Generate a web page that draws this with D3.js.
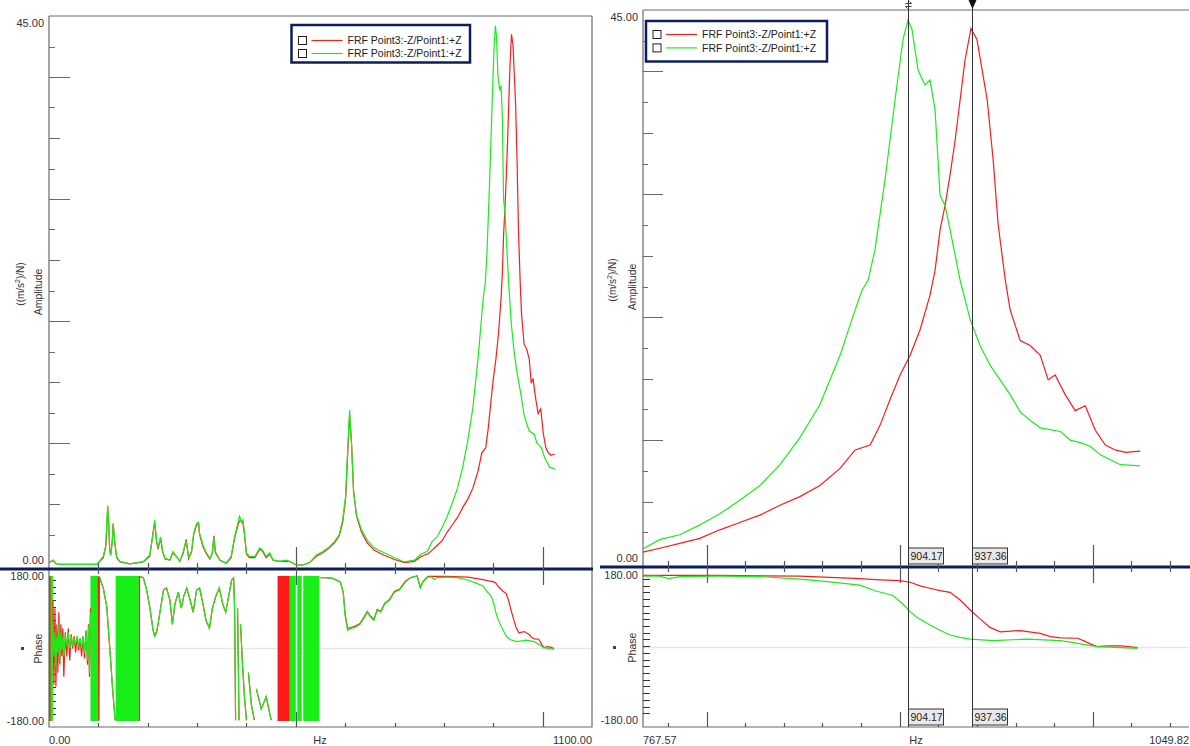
<!DOCTYPE html>
<html lang="en">
<head>
<meta charset="UTF-8">
<title>FRF Amplitude / Phase</title>
<script src="https://cdn.jsdelivr.net/npm/d3@7"></script>
<style>
  html, body { margin: 0; padding: 0; background: #fff; }
  svg { display: block; font-family: "Liberation Sans", Arial, sans-serif; }
</style>
</head>
<body>
<script>
// ---------- data (Hz, value); null value = gap in the trace ----------
const seriesNames = ["FRF Point3:-Z/Point1:+Z", "FRF Point3:-Z/Point1:+Z"];
const cursorHz = [904.17, 937.36];

// amplitude ((m/s^2)/N), below the zoom range
const ampGreenLow = [[0,0.2],[2,0.27],[9,0.4],[14,0.1],[22,0.05],[97,0.05],[110,0.7],[115,1.6],[119,4.9],[121,3.4],[123,1.2],[125,0.8],[128,1.8],[130,3.3],[133,2.0],[137,0.7],[144,0.27],[164,0.1],[191,0.27],[204,0.8],[211,2.6],[214,3.7],[218,2.0],[221,1.4],[226,2.3],[230,1.2],[235,0.55],[245,0.4],[251,1.1],[258,0.7],[265,0.3],[272,1.1],[278,2.0],[283,0.55],[289,1.2],[293,2.6],[299,3.4],[303,3.5],[305,2.6],[312,1.6],[319,1.0],[326,0.55],[331,1.0],[334,2.3],[337,1.1],[346,0.4],[359,0.15],[369,0.7],[376,2.3],[383,3.5],[386,4.0],[390,3.5],[393,3.7],[396,2.6],[400,1.0],[406,0.7],[417,0.7],[427,1.4],[433,1.2],[440,0.7],[447,1.0],[454,0.4],[467,0.3],[481,0.4],[487,0.3],[501,0.0],[514,0.0],[528,0.2],[541,0.8],[555,1.1],[568,1.5],[578,1.9],[588,2.5],[595,3.7],[601,5.7],[605,9.4],[609,12.7],[613,9.8],[617,6.1],[623,4.1],[633,2.9],[645,2.0],[659,1.4],[679,1.0],[700,0.6],[720,0.25],[740,0.4],[754,0.9],[766,1.1]];
const ampRedLow = [[0,0.2],[2,0.25],[9,0.35],[14,0.1],[22,0.05],[97,0.05],[110,0.6],[115,1.5],[119,4.7],[121,3.3],[123,1.2],[125,0.8],[128,1.9],[130,3.4],[133,1.9],[137,0.6],[144,0.25],[164,0.1],[191,0.25],[204,0.7],[211,2.7],[214,3.5],[218,1.9],[221,1.3],[226,2.2],[230,1.1],[235,0.5],[245,0.4],[251,1.0],[258,0.7],[265,0.3],[272,1.0],[278,2.1],[283,0.5],[289,1.1],[293,2.5],[299,3.3],[303,3.4],[305,2.5],[312,1.5],[319,0.9],[326,0.5],[331,1.0],[334,2.4],[337,1.0],[346,0.4],[359,0.15],[369,0.6],[376,2.2],[383,3.3],[386,3.6],[390,3.6],[393,3.4],[396,2.5],[400,0.9],[406,0.6],[417,0.6],[427,1.3],[433,1.1],[440,0.6],[447,0.9],[454,0.4],[467,0.3],[481,0.3],[487,0.3],[501,0.0],[514,0.0],[528,0.2],[541,0.7],[555,1.0],[568,1.4],[578,1.8],[588,2.4],[595,3.5],[601,5.5],[605,9.0],[609,12.3],[613,9.9],[617,6.0],[623,4.0],[633,2.7],[645,1.8],[659,1.2],[679,0.8],[700,0.45],[720,0.2],[740,0.3],[754,0.7],[766,0.9]];

// amplitude around the resonance
const ampGreenHigh = [[767.6,1.2],[775.7,1.9],[786.1,2.3],[796.5,3.1],[806.8,4.0],[817.2,5.1],[827.6,6.3],[838.0,8.0],[848.3,10.2],[858.7,12.9],[869.1,16.9],[876.9,20.6],[880.5,22.2],[883.6,23.0],[887.2,25.5],[892.4,31.2],[897.6,37.7],[901.7,42.6],[904.3,44.2],[906.4,43.4],[909.5,40.1],[913.1,38.9],[915.7,39.3],[918.3,36.9],[920.9,29.9],[923.5,29.1],[926.1,27.1],[931.3,23.0],[936.5,19.8],[941.6,17.7],[946.8,16.1],[952.0,14.9],[957.2,13.7],[962.4,12.3],[967.6,11.6],[972.8,11.0],[983.2,10.7],[988.3,10.0],[993.5,9.8],[998.7,9.5],[1003.9,8.8],[1009.1,8.4],[1014.3,8.0],[1024.6,7.9]];
const ampRedHigh = [[767.6,0.9],[775.7,1.2],[786.1,1.6],[796.5,2.0],[806.8,2.7],[817.2,3.3],[827.6,3.9],[838.0,4.7],[848.3,5.4],[858.7,6.3],[869.1,7.7],[876.9,9.2],[884.7,9.6],[889.8,11.2],[895.0,13.3],[900.2,15.3],[905.4,16.9],[910.6,19.0],[915.7,21.8],[918.3,23.8],[920.9,27.1],[923.5,29.1],[926.1,31.6],[928.7,34.4],[931.3,37.7],[933.8,40.9],[936.9,43.5],[940.0,42.6],[942.7,40.1],[945.3,37.7],[948.4,32.8],[951.0,27.5],[954.7,23.0],[957.2,20.6],[962.4,18.1],[967.6,17.7],[972.8,16.9],[976.9,14.9],[980.5,15.3],[985.7,13.7],[990.9,12.4],[996.1,12.8],[1001.3,10.8],[1006.5,9.6],[1011.6,9.2],[1016.8,9.0],[1024.6,9.1]];

// phase (deg), below the zoom range
const phaseGreenLow = [[8,60],[10,-20],[12,40],[14,-50],[16,30],[18,-10],[20,60],[22,-30],[24,40],[26,-5],[28,30],[30,-20],[33,35],[36,5],[39,40],[42,0],[45,30],[48,5],[51,25],[54,10],[57,30],[60,5],[63,25],[66,0],[69,30],[72,-10],[75,40],[78,-30],[80,55],[82,-60],[84,90],[86,null],
  [102,178],[110,150],[117,104],[123,4],[129,-103],[134,-178],[136,null],
  [184,178],[191,176],[197,150],[204,104],[211,45],[214,30],[218,40],[221,60],[226,100],[232,145],[238,150],[245,120],[250,60],[255,110],[262,140],[268,100],[273,130],[279,150],[286,120],[292,90],[299,145],[305,150],[312,110],[318,70],[325,50],[331,100],[338,130],[345,150],[352,110],[358,90],[364,130],[370,170],[374,175],[376,100],[378,-178],[379,null],
  [382,100],[385,-178],[386,null],[388,60],[392,-40],[396,-120],[400,-178],[401,null],[404,-60],[410,-140],[416,-178],[417,null],
  [420,-100],[430,-150],[440,-120],[450,-178],[451,null],
  [550,176],[560,176],[575,174],[590,165],[596,140],[600,80],[605,45],[612,50],[620,52],[630,60],[638,75],[645,90],[650,80],[658,70],[665,95],[672,90],[680,110],[690,120],[700,140],[710,145],[722,165],[733,176],[746,180],[752,150],[758,165],[766,176]];
const phaseRedLow = [[8,120],[10,-90],[12,100],[14,-95],[16,60],[18,-60],[20,90],[22,-40],[24,60],[26,-20],[28,50],[30,-70],[33,40],[36,-20],[39,50],[42,-30],[45,35],[48,0],[51,30],[54,-10],[57,30],[60,-5],[63,25],[66,-20],[69,30],[72,-25],[75,45],[78,-40],[80,60],[82,-70],[84,100],[86,null],
  [100,178],[101,-178],[102,178],[110,150],[117,104],[123,4],[129,-103],[134,-178],[136,null],
  [184,178],[191,176],[197,150],[204,104],[211,45],[214,32],[218,42],[221,62],[226,100],[232,145],[238,150],[245,120],[250,60],[255,110],[262,140],[268,100],[273,130],[279,150],[286,120],[292,90],[299,145],[305,150],[312,110],[318,70],[325,50],[331,100],[338,130],[345,150],[352,110],[358,90],[364,130],[370,170],[374,175],[376,100],[378,-178],[379,null],
  [382,100],[385,-178],[386,null],[388,60],[392,-40],[396,-120],[400,-178],[401,null],[404,-60],[410,-140],[416,-178],[417,null],
  [420,-100],[430,-150],[440,-120],[450,-178],[451,null],
  [550,176],[560,176],[575,174],[590,165],[596,140],[600,85],[605,50],[612,52],[620,55],[630,62],[638,78],[645,92],[650,82],[658,72],[665,97],[672,92],[680,112],[690,122],[700,142],[710,147],[722,167],[733,176],[746,180],[752,152],[758,167],[766,177]];
// full-height wrap bands (Hz from, Hz to)
const greenWrapBands = [[0,8],[84,102],[135,182],[478,500],[503,512],[515,548]];
const redWrapBands = [[0,3],[182,184],[463,487]];

// phase around the resonance
const phaseGreenHigh = [[767.4,177],[775.7,177],[780.4,171],[786.1,176],[806.8,177],[827.6,176],[848.3,170],[863.9,163],[879.4,155],[887.2,141],[896.5,129],[901.7,108],[905.4,89],[908.8,75],[915.7,56],[920.9,43],[926.1,31],[931.3,25],[936.5,21],[948.5,17],[966.1,21],[983.2,17],[990.0,12],[997.3,6],[1002.5,2],[1023.2,-2]];
const phaseRedHigh = [[767.4,179],[806.8,179],[848.3,177],[879.4,171],[889.8,168],[900.2,166],[905.4,162],[910.6,153],[915.7,147],[920.9,141],[926.1,137],[931.3,118],[936.5,93],[941.6,71],[946.8,50],[952.0,39],[962.4,42],[972.8,35],[978.0,27],[983.2,24],[992.0,23],[995.1,17],[998.7,9],[1002.5,2],[1007.7,4],[1014.5,4],[1023.2,0]];

const ampGreen = ampGreenLow.concat(ampGreenHigh);
const ampRed = ampRedLow.concat(ampRedHigh);
const phaseGreen = phaseGreenLow.concat(phaseGreenHigh);
const phaseRed = phaseRedLow.concat(phaseRedHigh);

const RED = "#ff1a1a", GREEN = "#18ef18", NAVY = "#0c1f5c", AXIS = "#6a6a6a";

const svg = d3.select("body").append("svg")
  .attr("width", 1190).attr("height", 746);
const defs = svg.append("defs");

function panel(cfg) {
  const g = svg.append("g");
  const x = d3.scaleLinear().domain(cfg.domain).range([cfg.x0, cfg.x1]);
  const yA = d3.scaleLinear().domain([0, 45]).range([cfg.ampZero, cfg.ampTop]);
  const yP = d3.scaleLinear().domain([-180, 180]).range([cfg.phBot, cfg.phTop]);

  // clip regions
  defs.append("clipPath").attr("id", cfg.id + "A").append("rect")
    .attr("x", cfg.axisX).attr("y", cfg.frameTop).attr("width", cfg.x1 - cfg.axisX).attr("height", cfg.sep - 1 - cfg.frameTop);
  defs.append("clipPath").attr("id", cfg.id + "P").append("rect")
    .attr("x", cfg.axisX).attr("y", cfg.sep + 1).attr("width", cfg.x1 - cfg.axisX).attr("height", cfg.bottom - cfg.sep - 1);

  // phase zero line
  g.append("line").attr("x1", cfg.axisX).attr("x2", cfg.x1).attr("y1", yP(0)).attr("y2", yP(0))
    .attr("stroke", "#e6e6e6").attr("stroke-width", 1.5);

  // frame
  g.append("path").attr("fill", "none").attr("stroke", AXIS).attr("stroke-width", 1.2)
    .attr("d", `M${cfg.axisX},${cfg.frameTop}V${cfg.bottom}H${cfg.x1}` +
      (cfg.rightFrame ? `V${cfg.frameTop}` : "") + `M${cfg.axisX},${cfg.frameTop}H${cfg.x1}`);

  // amplitude ticks
  const aTicks = d3.range(2.5, 45, 2.5);
  const aLen = v => v % 10 === 0 ? cfg.tl[2] : v % 5 === 0 ? cfg.tl[1] : cfg.tl[0];
  g.append("g").selectAll("line").data(aTicks).join("line")
    .attr("x1", cfg.axisX).attr("x2", v => cfg.axisX + aLen(v))
    .attr("y1", v => Math.round(yA(v)) + 0.5).attr("y2", v => Math.round(yA(v)) + 0.5)
    .attr("stroke", AXIS).attr("stroke-width", 1);

  // phase ticks
  const pTicks = d3.range(-180 + 100 / 6, 180, 100 / 6).filter(v => v < 178);
  g.append("g").selectAll("line").data(pTicks).join("line")
    .attr("x1", cfg.axisX).attr("x2", v => cfg.axisX + (Math.abs(Math.round(v)) % 100 === 0 ? 16 : 7))
    .attr("y1", v => Math.round(yP(v)) + 0.5).attr("y2", v => Math.round(yP(v)) + 0.5)
    .attr("stroke", "#333").attr("stroke-width", 1);

  // separator bar
  g.append("line").attr("x1", cfg.sepX0).attr("x2", cfg.sepX1).attr("y1", cfg.sep).attr("y2", cfg.sep)
    .attr("stroke", NAVY).attr("stroke-width", 3);

  // frequency ticks (around separator and on bottom axis)
  const isMajor = v => Math.abs(v % cfg.majorStep) < 1e-6;
  const ft = g.append("g").selectAll("g").data(cfg.fTicks).join("g");
  ft.append("line").attr("x1", v => Math.round(x(v)) + 0.5).attr("x2", v => Math.round(x(v)) + 0.5)
    .attr("y1", v => isMajor(v) ? cfg.sep - 22 : cfg.sep - 6).attr("y2", v => isMajor(v) ? cfg.sep + 16 : cfg.sep + 5)
    .attr("stroke", "#555").attr("stroke-width", 1.2);
  ft.append("line").attr("x1", v => Math.round(x(v)) + 0.5).attr("x2", v => Math.round(x(v)) + 0.5)
    .attr("y1", v => isMajor(v) ? cfg.bottom - 15 : cfg.bottom - 4).attr("y2", cfg.bottom)
    .attr("stroke", "#555").attr("stroke-width", 1.2);

  // curves
  const lineA = d3.line().x(d => x(d[0])).y(d => yA(d[1]));
  const lineP = d3.line().defined(d => d[1] !== null).x(d => x(d[0])).y(d => yP(d[1]));
  const ga = g.append("g").attr("clip-path", `url(#${cfg.id}A)`);
  const gp = g.append("g").attr("clip-path", `url(#${cfg.id}P)`);

  gp.selectAll("rect.gb").data(cfg.greenBands).join("rect").attr("class", "gb")
    .attr("x", d => x(d[0])).attr("width", d => Math.max(1, x(d[1]) - x(d[0])))
    .attr("y", yP(180)).attr("height", yP(-180) - yP(180)).attr("fill", GREEN);
  gp.selectAll("rect.rb").data(cfg.redBands).join("rect").attr("class", "rb")
    .attr("x", d => x(d[0])).attr("width", d => Math.max(1.2, x(d[1]) - x(d[0])))
    .attr("y", yP(180)).attr("height", yP(-180) - yP(180)).attr("fill", RED);

  ga.append("path").datum(ampRed).attr("d", lineA).attr("fill", "none").attr("stroke", RED).attr("stroke-width", 1.2);
  ga.append("path").datum(ampGreen).attr("d", lineA).attr("fill", "none").attr("stroke", GREEN).attr("stroke-width", 1.2);
  gp.append("path").datum(phaseRed).attr("d", lineP).attr("fill", "none").attr("stroke", RED).attr("stroke-width", 1.2);
  gp.append("path").datum(phaseGreen).attr("d", lineP).attr("fill", "none").attr("stroke", GREEN).attr("stroke-width", 1.2);

  // value labels
  const lab = (t, xx, yy, anchor) => g.append("text").attr("x", xx).attr("y", yy).attr("dy", "0.35em")
    .attr("text-anchor", anchor).attr("font-size", 11).attr("fill", "#333").text(t);
  lab("45.00", cfg.axisX - 5, cfg.frameTop + 7, "end");
  lab("0.00", cfg.axisX - 5, cfg.ampZero - 5, "end");
  lab("180.00", cfg.axisX - 5, yP(180), "end");
  lab("-180.00", cfg.axisX - 5, yP(-180), "end");
  lab(d3.format(".2f")(cfg.domain[0]), cfg.axisX, 740, "start");
  lab(d3.format(".2f")(cfg.domain[1]), cfg.x1, 740, "end");
  lab("Hz", cfg.hzX, 740, "middle");

  // axis titles
  const t1 = g.append("text").attr("transform", `translate(${cfg.titleX[0]},${cfg.ampTitleY[0]}) rotate(-90)`)
    .attr("text-anchor", "middle").attr("font-size", 10).attr("fill", "#333");
  t1.append("tspan").text("((m/s");
  t1.append("tspan").attr("font-size", 7).attr("dy", -4).text("2");
  t1.append("tspan").attr("dy", 4).text(")/N)");
  g.append("text").attr("transform", `translate(${cfg.titleX[1]},${cfg.ampTitleY[1]}) rotate(-90)`)
    .attr("dy", "0.35em").attr("text-anchor", "middle").attr("font-size", 10.5).attr("fill", "#333").text("Amplitude");
  g.append("text").attr("transform", `translate(${cfg.titleX[1]},${yP(0)}) rotate(-90)`)
    .attr("dy", "0.35em").attr("text-anchor", "middle").attr("font-size", 10.5).attr("fill", "#333").text("Phase");
  g.append("rect").attr("x", cfg.titleX[0] - 3).attr("y", yP(0) - 1.5).attr("width", 3).attr("height", 3).attr("fill", "#444");

  // legend
  const L = cfg.legend;
  const lg = g.append("g");
  lg.append("rect").attr("x", L.x).attr("y", L.y).attr("width", L.w).attr("height", L.h)
    .attr("fill", "#fff").attr("stroke", NAVY).attr("stroke-width", 2.5);
  const rows = lg.selectAll("g").data(seriesNames.map((n, i) => ({ n, c: i ? GREEN : RED, i }))).join("g")
    .attr("transform", d => `translate(${L.x},${L.y + L.r0 + d.i * L.dr})`);
  rows.append("rect").attr("x", 7).attr("y", -4).attr("width", 8).attr("height", 8)
    .attr("fill", "#fff").attr("stroke", "#222").attr("stroke-width", 1);
  rows.append("line").attr("x1", 20).attr("x2", 51).attr("stroke", d => d.c).attr("stroke-width", 1.2);
  rows.append("text").attr("x", 56).attr("dy", "0.35em").attr("font-size", 10.5).attr("fill", "#222").text(d => d.n);

  return { g, x, yA, yP };
}

const left = panel({
  id: "L", domain: [0, 1100], x0: 49, x1: 592, axisX: 49, frameTop: 16, ampTop: 16, ampZero: 565,
  phTop: 576, phBot: 721, sep: 569, bottom: 727, sepX0: 0, sepX1: 593, rightFrame: true,
  tl: [6, 11, 21], fTicks: d3.range(100, 1100, 100), majorStep: 500, hzX: 320,
  greenBands: greenWrapBands, redBands: redWrapBands,
  titleX: [24, 38], ampTitleY: [284, 292],
  legend: { x: 291.5, y: 25, w: 178.5, h: 37.5, r0: 15.5, dr: 13 }
});

const right = panel({
  id: "R", domain: [767.57, 1049.82], x0: 644, x1: 1189, axisX: 643, frameTop: 10, ampTop: 10, ampZero: 563,
  phTop: 575, phBot: 720, sep: 567, bottom: 727, sepX0: 600, sepX1: 1190, rightFrame: false,
  tl: [5, 10, 20], fTicks: d3.range(780, 1049, 20), majorStep: 100, hzX: 916,
  greenBands: [], redBands: [],
  titleX: [616, 632], ampTitleY: [280, 287],
  legend: { x: 646, y: 21, w: 181, h: 40.5, r0: 13.5, dr: 13.4 }
});

// cursors in the zoomed panel
const cg = svg.append("g");
cursorHz.forEach((hz, i) => {
  const cx = Math.round(right.x(hz)) + 0.5;
  cg.append("line").attr("x1", cx).attr("x2", cx).attr("y1", 0).attr("y2", 727)
    .attr("stroke", "#333").attr("stroke-width", 1);
  [548, 709].forEach(by => {
    cg.append("rect").attr("x", cx).attr("y", by).attr("width", 35).attr("height", 16)
      .attr("fill", "#e9e9e9").attr("stroke", "#333").attr("stroke-width", 1);
    cg.append("text").attr("x", cx + 2).attr("y", by + 8).attr("dy", "0.35em")
      .attr("font-size", 10.5).attr("fill", "#222").text(d3.format(".2f")(hz));
  });
  if (i === 1) {
    cg.append("path").attr("d", `M${cx - 4},0L${cx + 4},0L${cx},9Z`).attr("fill", "#111");
  } else {
    cg.append("path").attr("fill", "none").attr("stroke", "#333").attr("stroke-width", 0.9)
      .attr("d", `M${cx - 3},3.5H${cx + 3}M${cx + 1},1.5L${cx + 3},3.5M${cx - 3},6.5H${cx + 3}M${cx - 1},8.5L${cx - 3},6.5`);
  }
});
</script>
</body>
</html>
